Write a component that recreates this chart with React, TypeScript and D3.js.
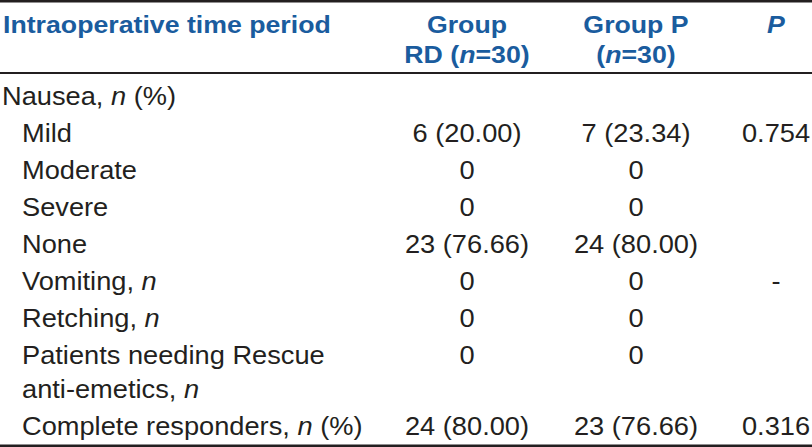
import React from "react";
import * as d3 from "d3";

const headerLines: string[][] = [
  ["**Intraoperative time period**"],
  ["**Group**", "**RD (*n*=30)**"],
  ["**Group P**", "**(*n*=30)**"],
  ["***P***"],
];

const rowLabels: string[][] = [
  ["Nausea, *n* (%)"],
  ["Mild"],
  ["Moderate"],
  ["Severe"],
  ["None"],
  ["Vomiting, *n*"],
  ["Retching, *n*"],
  ["Patients needing Rescue", "anti-emetics, *n*"],
  ["Complete responders, *n* (%)"],
];
const rowIndent: boolean[] = [false, true, true, true, true, true, true, true, true];
const groupRD: string[] = ["", "6 (20.00)", "0", "0", "23 (76.66)", "0", "0", "0", "24 (80.00)"];
const groupP: string[] = ["", "7 (23.34)", "0", "0", "24 (80.00)", "0", "0", "0", "23 (76.66)"];
const pValues: string[] = ["", "0.754", "", "", "", "-", "", "", "0.316"];

const W = 812;
const H = 447;
const FONT = "'Liberation Sans', Arial, Helvetica, sans-serif";
const FS = 25;
const SX = 1.09;
const HFS = 24.5;
const BLUE = "#1a5c9e";
const INK = "#231f20";

// parse "**bold**" and "*italic*" markers into segments
function parse(s: string) {
  const segs: { t: string; b: boolean; i: boolean }[] = [];
  let b = false, i = false, cur = "";
  let k = 0;
  while (k < s.length) {
    if (s.startsWith("**", k)) {
      if (cur) segs.push({ t: cur, b, i });
      cur = ""; b = !b; k += 2;
    } else if (s[k] === "*") {
      if (cur) segs.push({ t: cur, b, i });
      cur = ""; i = !i; k += 1;
    } else { cur += s[k]; k++; }
  }
  if (cur) segs.push({ t: cur, b, i });
  return segs;
}

function Txt({ x, y, s, anchor, fill, fs }: { x: number; y: number; s: string; anchor: string; fill: string; fs: number }) {
  const segs = parse(s);
  return (
    <text
      transform={`translate(${x},${y}) scale(${SX},1)`}
      textAnchor={anchor}
      fontFamily={FONT}
      fontSize={fs}
      fill={fill}
    >
      {segs.map((g, j) => (
        <tspan key={j} fontWeight={g.b ? "bold" : "normal"} fontStyle={g.i ? "italic" : "normal"} xmlSpace="preserve">
          {g.t}
        </tspan>
      ))}
    </text>
  );
}

export default function App() {
  const colX = d3.scaleOrdinal<string, number>().domain(["label", "rd", "p", "pv"]).range([3, 467, 636, 776]);
  const indentX = d3.scaleOrdinal<string, number>().domain(["no", "yes"]).range([2, 22]);

  // row baselines: step per row, extra per additional line
  const firstBase = 104.5, rowStep = 37, lineStep = 34;
  const rowY: number[] = [];
  let y = firstBase;
  rowLabels.forEach((lines) => {
    rowY.push(y);
    y += rowStep + (lines.length - 1) * lineStep;
  });
  const yHeader = d3.scaleLinear().domain([0, 1]).range([33, 63]);

  const headerKeys = ["label", "rd", "p", "pv"];
  return (
    <svg width={W} height={H} style={{ position: "absolute", left: 0, top: 0, background: "#fff" }}>
      <rect x={0} y={0} width={W} height={H} fill="#fff" />
      <line x1={0} x2={W} y1={1.2} y2={1.2} stroke={INK} strokeWidth={2.4} />
      <line x1={0} x2={W} y1={73} y2={73} stroke={INK} strokeWidth={2.2} />
      <line x1={0} x2={W} y1={445.8} y2={445.8} stroke={INK} strokeWidth={2.4} />
      {headerLines.map((lines, c) =>
        lines.map((s, li) => (
          <Txt
            key={`h${c}-${li}`}
            x={colX(headerKeys[c])}
            y={yHeader(li)}
            s={s}
            anchor={c === 0 ? "start" : "middle"}
            fill={BLUE}
            fs={HFS}
          />
        ))
      )}
      {rowLabels.map((lines, r) => (
        <g key={`r${r}`}>
          {lines.map((s, li) => (
            <Txt key={li} x={indentX(rowIndent[r] ? "yes" : "no")} y={rowY[r] + li * lineStep} s={s} anchor="start" fill={INK} fs={FS} />
          ))}
          {groupRD[r] && <Txt x={colX("rd")} y={rowY[r]} s={groupRD[r]} anchor="middle" fill={INK} fs={FS} />}
          {groupP[r] && <Txt x={colX("p")} y={rowY[r]} s={groupP[r]} anchor="middle" fill={INK} fs={FS} />}
          {pValues[r] && <Txt x={colX("pv")} y={rowY[r]} s={pValues[r]} anchor="middle" fill={INK} fs={FS} />}
        </g>
      ))}
    </svg>
  );
}
